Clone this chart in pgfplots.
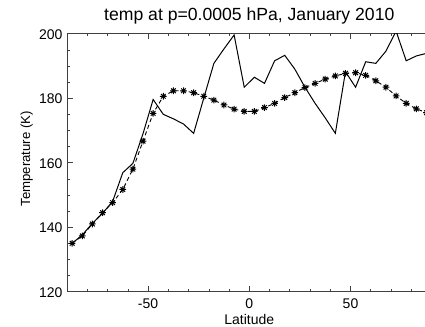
\documentclass[border=0pt]{standalone}
\usepackage{fontspec}
\setmainfont{Liberation Sans}
\usepackage{pgfplots}
\pgfplotsset{compat=1.18}
\pgfdeclareplotmark{idlstar}{%
 \pgfpathmoveto{\pgfqpoint{-\pgfplotmarksize}{0pt}}\pgfpathlineto{\pgfqpoint{\pgfplotmarksize}{0pt}}%
 \pgfpathmoveto{\pgfqpoint{0pt}{-\pgfplotmarksize}}\pgfpathlineto{\pgfqpoint{0pt}{\pgfplotmarksize}}%
 \pgfpathmoveto{\pgfqpoint{-.707\pgfplotmarksize}{-.707\pgfplotmarksize}}\pgfpathlineto{\pgfqpoint{.707\pgfplotmarksize}{.707\pgfplotmarksize}}%
 \pgfpathmoveto{\pgfqpoint{-.707\pgfplotmarksize}{.707\pgfplotmarksize}}\pgfpathlineto{\pgfqpoint{.707\pgfplotmarksize}{-.707\pgfplotmarksize}}%
 \pgfusepathqstroke}
\begin{document}
\begin{tikzpicture}
\begin{axis}[
  scale only axis, width=364.4pt, height=258pt,
  xmin=-90, xmax=90, ymin=120, ymax=200,
  xtick={-50,0,50}, minor xtick={-80,-70,-60,-40,-30,-20,-10,10,20,30,40,60,70,80},
  ytick={120,140,160,180,200}, minor ytick={125,130,135,145,150,155,165,170,175,185,190,195},
  major tick length=5.5pt, minor tick length=2.8pt,
  tick style={black!75, line width=0.6pt},
  axis line style={black!75, line width=0.7pt},
  tick align=inside,
  /pgf/number format/assume math mode=true,
  ticklabel style={font=\fontsize{14}{14}\selectfont, inner sep=0pt},
  xticklabel style={anchor=north, yshift=-7pt},
  yticklabel style={anchor=east, xshift=-4.5pt, yshift=-0.8pt},
  title={temp at p=0.0005 hPa, January 2010},
  title style={font=\fontsize{17.6}{20}\selectfont, at={(0.5,1)}, anchor=base, yshift=7pt, inner sep=0pt},
  xlabel={Latitude},
  xlabel style={font=\fontsize{14}{16}\selectfont, at={(0.5,0)}, anchor=base, yshift=-32.5pt, inner sep=0pt},
  ylabel={Temperature (K)},
  every axis y label/.style={at={(0,0.5)}, rotate=90, anchor=base, yshift=37pt, xshift=4pt, inner sep=0pt, font=\fontsize{13.2}{16}\selectfont},
]
\coordinate (SW) at (rel axis cs:0,0);
\coordinate (NE) at (rel axis cs:1,1);
\addplot[black, line width=1pt, no markers] coordinates {
(-87.5,135.0) (-82.5,137.6) (-77.5,141.2) (-72.5,144.3) (-67.5,148.0)
(-62.5,156.9) (-57.5,159.8) (-52.5,169.0) (-47.5,179.6) (-42.5,175.0)
(-37.5,173.6) (-32.5,172.0) (-27.5,169.1) (-22.5,180.0) (-17.5,190.8)
(-12.5,195.3) (-7.5,199.6) (-2.5,183.4) (2.5,186.5) (7.5,184.6)
(12.5,191.6) (17.5,193.3) (22.5,189.0) (27.5,183.4) (32.5,178.4)
(37.5,173.9) (42.5,169.1) (47.5,188.2) (52.5,183.4) (57.5,191.3)
(62.5,190.8) (67.5,194.6) (72.5,200.8) (77.5,191.6) (82.5,193.1) (87.5,193.9)
};
\addplot[black, line width=0.9pt, dash pattern=on 4pt off 3pt, mark=idlstar, mark size=3.3pt, mark options={solid, line width=1pt}] coordinates {
(-87.5,135.0) (-82.5,137.3) (-77.5,141.0) (-72.5,144.5) (-67.5,147.6)
(-62.5,151.7) (-57.5,158.0) (-52.5,166.7) (-47.5,175.3) (-42.5,180.6)
(-37.5,182.3) (-32.5,182.3) (-27.5,181.7) (-22.5,180.6) (-17.5,179.4)
(-12.5,177.9) (-7.5,176.6) (-2.5,175.9) (2.5,175.9) (7.5,177.1)
(12.5,178.4) (17.5,180.2) (22.5,181.7) (27.5,183.3) (32.5,184.6)
(37.5,185.9) (42.5,186.9) (47.5,187.7) (52.5,187.9) (57.5,187.1)
(62.5,185.4) (67.5,183.4) (72.5,180.7) (77.5,178.4) (82.5,176.7) (87.5,175.5)
};
\end{axis}
\pgfresetboundingbox
\path ([shift={(-67.1pt,-34.3pt)}]SW) rectangle ([shift={(-6.5pt,33.7pt)}]NE);
\end{tikzpicture}
\end{document}
